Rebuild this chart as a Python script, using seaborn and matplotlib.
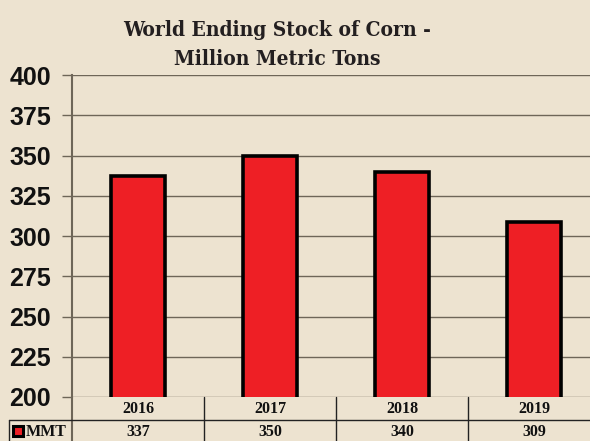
import matplotlib
matplotlib.use('Agg')
import matplotlib.pyplot as plt
import seaborn as sns
import pandas as pd
from matplotlib.lines import Line2D
from matplotlib.patches import Rectangle

years = ['2016', '2017', '2018', '2019']
mmt = [337, 350, 340, 309]
yticks = [200, 225, 250, 275, 300, 325, 350, 375, 400]

bg = '#ede3d0'
red = '#ee1f25'
gridc = '#6e6658'

sns.set_theme(style='white')
plt.rcParams['font.family'] = ['Liberation Sans', 'DejaVu Sans']

df = pd.DataFrame({'year': years, 'MMT': mmt})

fig = plt.figure(figsize=(5.9, 4.41), dpi=100, facecolor=bg)
W, H = 590, 441
x0, x1, ytop, ybot = 72, 600, 75, 397
ax = fig.add_axes([x0 / W, (H - ybot) / H, (x1 - x0) / W, (ybot - ytop) / H])
ax.set_facecolor(bg)

sns.barplot(data=df, x='year', y='MMT', color=red, edgecolor='black',
            linewidth=2.6, width=0.41, saturation=1, ax=ax, zorder=3)

ax.set_ylim(200, 400)
ax.set_xlim(-0.5, 3.5)
ax.set_yticks(yticks)
ax.set_yticklabels([str(t) for t in yticks], fontsize=18, fontweight='bold', color='#111111')
ax.yaxis.grid(True, color=gridc, linewidth=1.0, zorder=0)
ax.set_axisbelow(True)
ax.tick_params(axis='y', length=7, width=1.0, color=gridc, left=True, pad=8)
ax.set_xticks([])
ax.set_xlabel('')
ax.set_ylabel('')
for s in ['top', 'right', 'bottom']:
    ax.spines[s].set_visible(False)
ax.spines['left'].set_color(gridc)
ax.spines['left'].set_linewidth(1.5)

# title
for txt, py in [('World Ending Stock of Corn -', 30), ('Million Metric Tons', 59)]:
    fig.text(277 / W, 1 - py / H, txt, ha='center', va='center', fontsize=15,
             fontweight='heavy', family='DejaVu Serif', fontstretch='condensed',
             color='#231f20')

# data table under the axes
def fx(px):
    return px / W

def fy(py):
    return 1 - py / H

linec = '#222222'
fig.add_artist(Line2D([fx(x0), fx(x0)], [fy(ybot), fy(H)], color=gridc, lw=1.5))
fig.add_artist(Line2D([fx(9), fx(W)], [fy(420), fy(420)], color=linec, lw=1.0))
fig.add_artist(Line2D([fx(9), fx(9)], [fy(420), fy(H)], color=linec, lw=1.0))
colw = (x1 - x0) / len(years)
for i in range(1, len(years)):
    xx = x0 + colw * i
    fig.add_artist(Line2D([fx(xx), fx(xx)], [fy(ybot), fy(H)], color=linec, lw=1.0))
for i, (yr, v) in enumerate(zip(years, mmt)):
    cx = x0 + colw * (i + 0.5)
    fig.text(fx(cx), fy(409), yr, ha='center', va='center', fontsize=11.5,
             fontweight='bold', family='Liberation Serif', color='#111111')
    fig.text(fx(cx), fy(432), str(v), ha='center', va='center', fontsize=11.5,
             fontweight='bold', family='Liberation Serif', color='#111111')

fig.add_artist(Rectangle((fx(13), fy(436)), 10 / W, 10 / H, facecolor=red,
                         edgecolor='black', lw=2.2))
fig.text(fx(26), fy(432), 'MMT', ha='left', va='center', fontsize=11.5,
         fontweight='bold', family='Liberation Serif', color='#111111')

fig.savefig('out.png', dpi=100, facecolor=bg)
